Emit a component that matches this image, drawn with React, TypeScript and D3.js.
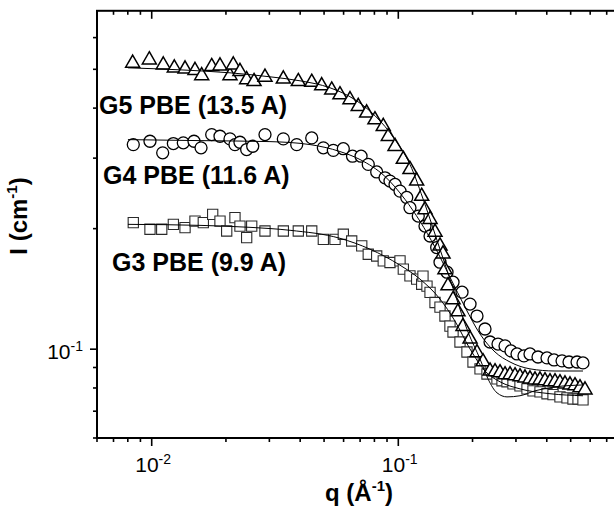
import React, { useEffect, useRef } from 'react';
import * as d3 from 'd3';

// G5 PBE (triangles)
const g5Q = [0.00837, 0.00978, 0.01114, 0.01235, 0.01365, 0.01498, 0.01595, 0.01751, 0.01892, 0.02077, 0.02142, 0.0228, 0.02427, 0.026, 0.0288, 0.03418, 0.03931, 0.04456, 0.0489, 0.0537, 0.058, 0.0637, 0.0688, 0.0744, 0.0804, 0.0869, 0.0911, 0.097, 0.1048, 0.1115, 0.1187, 0.1244, 0.1283, 0.1345, 0.1409, 0.1476, 0.1518, 0.1546, 0.159, 0.1667, 0.1746, 0.183, 0.1954, 0.2085, 0.2206, 0.2355, 0.2467, 0.2585, 0.2709, 0.2838, 0.2974, 0.3115, 0.3264, 0.342, 0.3584, 0.3755, 0.3934, 0.4122, 0.4319, 0.4525, 0.4742, 0.4969, 0.5206, 0.5455, 0.5716];
const g5I = [0.518, 0.528, 0.513, 0.504, 0.501, 0.497, 0.482, 0.508, 0.51, 0.482, 0.513, 0.494, 0.471, 0.466, 0.478, 0.473, 0.466, 0.464, 0.455, 0.444, 0.432, 0.42, 0.404, 0.389, 0.374, 0.36, 0.34, 0.321, 0.298, 0.281, 0.263, 0.241, 0.223, 0.211, 0.196, 0.181, 0.173, 0.158, 0.144, 0.133, 0.124, 0.114, 0.106, 0.098, 0.093, 0.0882, 0.0878, 0.0873, 0.0863, 0.0863, 0.0858, 0.0853, 0.0848, 0.0843, 0.0838, 0.0838, 0.0834, 0.0829, 0.0829, 0.0824, 0.0819, 0.0814, 0.081, 0.0801, 0.0791];

// G4 PBE (circles)
const g4Q = [0.00842, 0.00984, 0.01108, 0.01224, 0.01343, 0.01484, 0.01585, 0.01751, 0.01892, 0.02077, 0.02176, 0.0228, 0.02427, 0.02568, 0.0288, 0.03418, 0.03873, 0.04456, 0.04966, 0.05451, 0.05984, 0.06522, 0.07063, 0.07554, 0.08173, 0.08834, 0.09254, 0.097, 0.1016, 0.1082, 0.1115, 0.1205, 0.1283, 0.1345, 0.1431, 0.1476, 0.1576, 0.1667, 0.1813, 0.1954, 0.2085, 0.2247, 0.2355, 0.2537, 0.2709, 0.2864, 0.303, 0.3233, 0.342, 0.3686, 0.4009, 0.428, 0.4613, 0.4924, 0.5307, 0.561];
const g4I = [0.3243, 0.3306, 0.3093, 0.3262, 0.3276, 0.3306, 0.3183, 0.3435, 0.3402, 0.3351, 0.3243, 0.3287, 0.3152, 0.3212, 0.3435, 0.3351, 0.3243, 0.337, 0.3183, 0.3137, 0.3167, 0.3034, 0.3034, 0.2894, 0.2771, 0.2679, 0.2629, 0.2579, 0.2482, 0.2393, 0.2256, 0.215, 0.203, 0.1917, 0.1794, 0.1649, 0.1557, 0.147, 0.1388, 0.1296, 0.121, 0.1123, 0.1042, 0.103, 0.1019, 0.099, 0.0973, 0.0962, 0.0973, 0.0956, 0.0951, 0.094, 0.0935, 0.0929, 0.0929, 0.0924];

// G3 PBE (squares)
const g3Q = [0.00842, 0.00984, 0.01098, 0.01224, 0.01365, 0.01498, 0.01619, 0.01767, 0.01892, 0.02014, 0.02176, 0.0228, 0.02427, 0.02544, 0.0288, 0.03418, 0.03931, 0.04456, 0.04966, 0.05538, 0.05984, 0.06471, 0.07107, 0.07554, 0.08173, 0.0869, 0.09254, 0.1016, 0.1048, 0.1115, 0.1187, 0.1244, 0.1259, 0.1307, 0.1345, 0.1409, 0.1476, 0.1546, 0.162, 0.1667, 0.1779, 0.1899, 0.2009, 0.2145, 0.2289, 0.2513, 0.2634, 0.2759, 0.2918, 0.3115, 0.3326, 0.3517, 0.3755, 0.4009, 0.424, 0.4525, 0.4832, 0.511, 0.5356, 0.561];
const g3I = [0.207, 0.1993, 0.1993, 0.205, 0.2012, 0.2089, 0.207, 0.2171, 0.2089, 0.1973, 0.213, 0.203, 0.1899, 0.203, 0.1973, 0.1973, 0.1973, 0.1973, 0.1881, 0.1881, 0.1936, 0.1863, 0.1811, 0.1726, 0.1709, 0.1661, 0.1646, 0.1661, 0.1584, 0.1524, 0.1496, 0.1453, 0.1522, 0.1437, 0.1386, 0.1308, 0.1274, 0.121, 0.1142, 0.1104, 0.1042, 0.0984, 0.0929, 0.0893, 0.0867, 0.0843, 0.0834, 0.0829, 0.0819, 0.081, 0.0796, 0.0787, 0.0782, 0.0774, 0.077, 0.076, 0.0756, 0.0751, 0.0751, 0.0747];

// fitted curves
const g5FitQ = [0.00801, 0.01302, 0.02077, 0.03017, 0.03994, 0.05284, 0.06673, 0.0804, 0.097, 0.1115, 0.1283, 0.1476, 0.1698, 0.1917, 0.2145, 0.2311, 0.2513, 0.2759, 0.3115, 0.3584, 0.4319, 0.561];
const g5FitI = [0.5043, 0.4985, 0.49, 0.4789, 0.468, 0.4496, 0.4198, 0.383, 0.3337, 0.2894, 0.2299, 0.1777, 0.1372, 0.1104, 0.0945, 0.0843, 0.0778, 0.076, 0.0765, 0.0787, 0.0805, 0.0814];
const g4FitQ = [0.00801, 0.0157, 0.03017, 0.04385, 0.058, 0.06994, 0.0883, 0.1065, 0.1225, 0.1409, 0.162, 0.1864, 0.2145, 0.2467, 0.2838, 0.342, 0.4319, 0.561];
const g4FitI = [0.3337, 0.3318, 0.3299, 0.3243, 0.3116, 0.2976, 0.27, 0.2366, 0.2086, 0.1797, 0.1513, 0.1274, 0.1091, 0.0984, 0.0929, 0.0893, 0.0882, 0.0882];
const g3FitQ = [0.00801, 0.0157, 0.02504, 0.0364, 0.058, 0.0768, 0.1016, 0.1225, 0.1476, 0.1698, 0.1954, 0.2247, 0.2585, 0.3115, 0.4122, 0.561];
const g3FitI = [0.205, 0.2038, 0.2015, 0.1981, 0.1892, 0.1777, 0.1621, 0.1496, 0.1334, 0.1175, 0.1001, 0.0882, 0.0829, 0.0796, 0.0774, 0.0765];

const seriesLabels = ['G5 PBE (13.5 A)', 'G4 PBE (11.6 A)', 'G3 PBE (9.9 A)'];
const xMajor = [0.01, 0.1];
const xMinor = [0.006, 0.007, 0.008, 0.009, 0.02, 0.03, 0.04, 0.05, 0.06, 0.07, 0.08, 0.09, 0.2, 0.3, 0.4, 0.5, 0.6, 0.7];
const xTickExp = ['-2', '-1'];
const yMajor = [0.1];
const yMinor = [0.06, 0.07, 0.08, 0.09, 0.2, 0.3, 0.4, 0.5, 0.6];
const yTickExp = ['-1'];

const FONT = '"Liberation Sans", Arial, Helvetica, sans-serif';

export default function App() {
  const svgRef = useRef<SVGSVGElement>(null);

  useEffect(() => {
    const width = 614;
    const height = 512;
    const left = 97, right = 621, top = 10.8, bottom = 438;

    const x = d3.scaleLog().domain([0.006, 0.8]).range([left, right]);
    const y = d3.scaleLog().domain([0.06, 0.7]).range([bottom, top]);

    const svg = d3.select(svgRef.current)
      .attr('width', width)
      .attr('height', height);
    svg.selectAll('*').remove();

    svg.append('rect').attr('width', width).attr('height', height).attr('fill', '#fff');

    const plot = svg.append('g');

    const pts = (qs: number[], is: number[]) => qs.map((q, i) => [q, is[i]] as [number, number]);

    // squares
    plot.selectAll('.sq')
      .data(pts(g3Q, g3I))
      .enter().append('path')
      .attr('d', d3.symbol().type(d3.symbolSquare).size(105)())
      .attr('transform', (d) => `translate(${x(d[0])},${y(d[1])})`)
      .attr('fill', '#fff')
      .attr('stroke', '#2a2a2a')
      .attr('stroke-width', 1.1);

    // circles
    plot.selectAll('.circ')
      .data(pts(g4Q, g4I))
      .enter().append('circle')
      .attr('cx', (d) => x(d[0]))
      .attr('cy', (d) => y(d[1]))
      .attr('r', 6)
      .attr('fill', '#fff')
      .attr('stroke', '#000')
      .attr('stroke-width', 1.3);

    // triangles
    plot.selectAll('.tri')
      .data(pts(g5Q, g5I))
      .enter().append('path')
      .attr('d', d3.symbol().type(d3.symbolTriangle).size(85)())
      .attr('transform', (d) => `translate(${x(d[0])},${y(d[1])})`)
      .attr('fill', '#fff')
      .attr('stroke', '#000')
      .attr('stroke-width', 1.5);

    // fit lines
    const line = d3.line<[number, number]>()
      .x((d) => x(d[0]))
      .y((d) => y(d[1]))
      .curve(d3.curveMonotoneX);

    [pts(g5FitQ, g5FitI), pts(g4FitQ, g4FitI), pts(g3FitQ, g3FitI)].forEach((p) => {
      plot.append('path')
        .attr('d', line(p))
        .attr('fill', 'none')
        .attr('stroke', '#000')
        .attr('stroke-width', 1);
    });

    // frame
    svg.append('rect')
      .attr('x', left).attr('y', top)
      .attr('width', right - left).attr('height', bottom - top)
      .attr('fill', 'none')
      .attr('stroke', '#000')
      .attr('stroke-width', 2);

    const ticks = svg.append('g').attr('stroke', '#000').attr('stroke-width', 1.6);
    const xt = [...xMajor.map((v) => [v, 8]), ...xMinor.map((v) => [v, 4])];
    xt.forEach(([v, len]) => {
      ticks.append('line').attr('x1', x(v)).attr('x2', x(v)).attr('y1', bottom).attr('y2', bottom + len);
      ticks.append('line').attr('x1', x(v)).attr('x2', x(v)).attr('y1', top).attr('y2', top + len);
    });
    const yt = [...yMajor.map((v) => [v, 7]), ...yMinor.map((v) => [v, 4])];
    yt.forEach(([v, len]) => {
      ticks.append('line').attr('x1', left - len).attr('x2', left).attr('y1', y(v)).attr('y2', y(v));
      ticks.append('line').attr('x1', right - len).attr('x2', right).attr('y1', y(v)).attr('y2', y(v));
    });

    // tick labels
    xMajor.forEach((v, i) => {
      const t = svg.append('text')
        .attr('x', x(v) - 16.5)
        .attr('y', 471.5)
        .attr('font-family', FONT)
        .attr('font-size', 21);
      t.append('tspan').text('10');
      t.append('tspan').attr('dy', -8).attr('font-size', 14).text(xTickExp[i]);
    });
    yMajor.forEach((v, i) => {
      const t = svg.append('text')
        .attr('x', 83)
        .attr('y', y(v) + 9.5)
        .attr('text-anchor', 'end')
        .attr('font-family', FONT)
        .attr('font-size', 21);
      t.append('tspan').text('10');
      t.append('tspan').attr('dy', -8).attr('font-size', 14).text(yTickExp[i]);
    });

    // series labels
    const labelPos = [[99, 114], [103, 184], [112, 271]];
    seriesLabels.forEach((s, i) => {
      svg.append('text')
        .attr('x', labelPos[i][0])
        .attr('y', labelPos[i][1])
        .attr('font-family', FONT)
        .attr('font-weight', 'bold')
        .attr('font-size', 25)
        .text(s);
    });

    // axis titles
    const xt2 = svg.append('text')
      .attr('x', (left + right) / 2)
      .attr('y', 501)
      .attr('text-anchor', 'middle')
      .attr('font-family', FONT)
      .attr('font-weight', 'bold')
      .attr('font-size', 24);
    xt2.append('tspan').text('q (Å');
    xt2.append('tspan').attr('dy', -10).attr('font-size', 15).text('-1');
    xt2.append('tspan').attr('dy', 10).text(')');

    const yt2 = svg.append('text')
      .attr('transform', 'translate(27,216) rotate(-90)')
      .attr('text-anchor', 'middle')
      .attr('font-family', FONT)
      .attr('font-weight', 'bold')
      .attr('font-size', 24);
    yt2.append('tspan').text('I (cm');
    yt2.append('tspan').attr('dy', -10).attr('font-size', 15).text('-1');
    yt2.append('tspan').attr('dy', 10).text(')');
  }, []);

  return (
    <svg ref={svgRef} style={{ position: 'absolute', left: 0, top: 0, display: 'block' }}></svg>
  );
}
